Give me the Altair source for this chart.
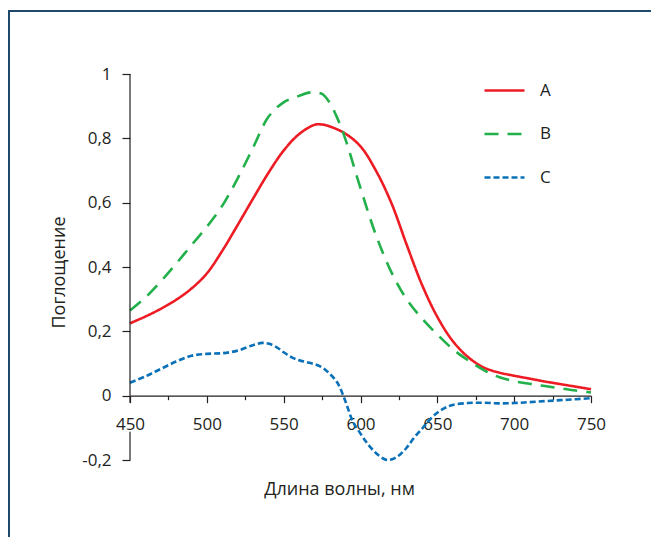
import altair as alt
import pandas as pd

# Wavelength (nm) and absorbance for each series
wl_a = [450, 460, 470, 480, 490, 500, 510, 520, 530, 540, 550, 560, 570, 575, 580, 590, 600,
        610, 620, 630, 640, 650, 660, 670, 680, 690, 700, 710, 720, 730, 740, 750]
abs_a = [0.225, 0.246, 0.27, 0.298, 0.333, 0.38, 0.45, 0.53, 0.612, 0.692, 0.762, 0.813,
         0.842, 0.843, 0.837, 0.815, 0.775, 0.70, 0.60, 0.47, 0.345, 0.245, 0.17, 0.12,
         0.088, 0.072, 0.062, 0.053, 0.044, 0.036, 0.028, 0.02]

wl_b = [450, 460, 470, 480, 490, 500, 510, 520, 530, 540, 550, 560, 568, 575, 580, 585, 590,
        600, 610, 620, 630, 640, 650, 660, 670, 680, 690, 700, 710, 720, 730, 740, 750]
abs_b = [0.265, 0.305, 0.355, 0.41, 0.468, 0.525, 0.59, 0.675, 0.77, 0.866, 0.912, 0.932,
         0.943, 0.938, 0.91, 0.862, 0.80, 0.645, 0.50, 0.385, 0.30, 0.24, 0.19, 0.145,
         0.11, 0.08, 0.058, 0.045, 0.037, 0.03, 0.023, 0.016, 0.01]

wl_c = [450, 460, 470, 480, 490, 500, 510, 520, 530, 536, 540, 545, 550, 555, 560, 565, 570,
        575, 580, 585, 590, 595, 600, 605, 610, 615, 618, 622, 626, 630, 635, 640, 645, 650,
        655, 660, 670, 680, 690, 700, 710, 720, 730, 740, 750]
abs_c = [0.04, 0.06, 0.083, 0.106, 0.124, 0.13, 0.132, 0.14, 0.157, 0.164, 0.162, 0.152,
         0.135, 0.12, 0.11, 0.104, 0.098, 0.088, 0.068, 0.04, -0.015, -0.08, -0.118, -0.152,
         -0.178, -0.196, -0.2, -0.195, -0.182, -0.162, -0.13, -0.103, -0.075, -0.053,
         -0.038, -0.029, -0.023, -0.022, -0.024, -0.023, -0.02, -0.017, -0.014, -0.011,
         -0.008]

series_names = ["A", "B", "C"]
series_colors = ["#ed1c24", "#22b04b", "#0a71b9"]
series_dashes = [[1, 0], [14, 9], [6, 3]]

x_ticks = list(range(450, 751, 25))
y_ticks = [round(-0.2 + 0.1 * i, 1) for i in range(13)]

# y-axis line segments (interrupted behind the "450" label)
yaxis_from = [1.0, -0.112]
yaxis_to = [-0.022, -0.2]

rows = []
for name, wl, ab in zip(series_names, (wl_a, wl_b, wl_c), (abs_a, abs_b, abs_c)):
    rows += [{"series": name, "wl": w, "abs": v} for w, v in zip(wl, ab)]
df = pd.DataFrame(rows)

FONT = "Open Sans"
TXT = "#231f20"
FRAME = "#1d4a6a"
W, H = 461, 386

xscale = alt.Scale(domain=[450, 750], nice=False, zero=False)
yscale = alt.Scale(domain=[-0.2, 1], nice=False, zero=False)

legend = alt.Legend(
    title=None, orient="none", legendX=353, legendY=-5,
    symbolType="stroke", symbolSize=1600, symbolStrokeWidth=2.6,
    labelFont=FONT, labelFontSize=17, labelColor=TXT, labelOffset=14,
    rowPadding=13.5, padding=0,
)

x_axis = alt.Axis(
    values=x_ticks,
    offset=-(H * 0.2 / 1.2),
    labelExpr="datum.value % 50 == 0 ? toString(datum.value) : ''",
    tickSize={"condition": {"test": "datum.value % 50 == 0", "value": 7}, "value": 4},
    labelPadding=14, labelFlush=False, labelOverlap=False, labelBound=False,
    title="Длина волны, нм",
    titleX=209, titleY=99, titleAnchor="middle", titleAlign="center",
    titleBaseline="alphabetic",
    grid=False,
)

y_axis = alt.Axis(
    values=y_ticks,
    domain=False,
    labelExpr="round(datum.value * 10) % 2 != 0 ? '' : replace(toString(round(datum.value * 10) / 10), '.', ',')",
    tickSize={"condition": {"test": "round(datum.value * 10) % 2 == 0", "value": 8}, "value": 4},
    labelPadding=11, labelOverlap=False, labelFlush=False,
    title="Поглощение",
    titleX=-62, titleY=198, titleAngle=270, titleAlign="center", titleBaseline="bottom",
    grid=False,
)

lines = alt.Chart(df).mark_line(interpolate="catmull-rom", strokeWidth=2.6).encode(
    x=alt.X("wl:Q", scale=xscale, axis=x_axis),
    y=alt.Y("abs:Q", scale=yscale, axis=y_axis),
    color=alt.Color("series:N", scale=alt.Scale(domain=series_names, range=series_colors), legend=legend),
    strokeDash=alt.StrokeDash("series:N", scale=alt.Scale(domain=series_names, range=series_dashes), legend=legend),
)

yline = alt.Chart(pd.DataFrame({"y0": yaxis_from, "y1": yaxis_to})).mark_rule(
    color=TXT, strokeWidth=1.2
).encode(
    x=alt.value(0),
    y=alt.Y("y0:Q", scale=yscale),
    y2="y1:Q",
)

one = pd.DataFrame({"k": [0]})
frame_top = alt.Chart(one).mark_rule(stroke=FRAME, strokeWidth=2).encode(
    x=alt.value(-121), x2=alt.value(900), y=alt.value(-63)
)
frame_left = alt.Chart(one).mark_rule(stroke=FRAME, strokeWidth=2).encode(
    x=alt.value(-121), y=alt.value(-64), y2=alt.value(900)
)

chart = alt.layer(frame_top, frame_left, lines, yline).properties(
    width=W, height=H,
    autosize=alt.AutoSizeParams(type="none"),
    padding={"left": 122, "top": 66, "right": 60, "bottom": 77},
).configure_view(stroke=None).configure_axis(
    labelFont=FONT, labelFontSize=17, labelColor=TXT,
    titleFont=FONT, titleFontSize=18, titleColor=TXT, titleFontWeight="normal",
    domainColor=TXT, tickColor=TXT, domainWidth=1.2, tickWidth=1.2,
)

chart.save("out.html", embed_options={"renderer": "svg", "actions": False})
